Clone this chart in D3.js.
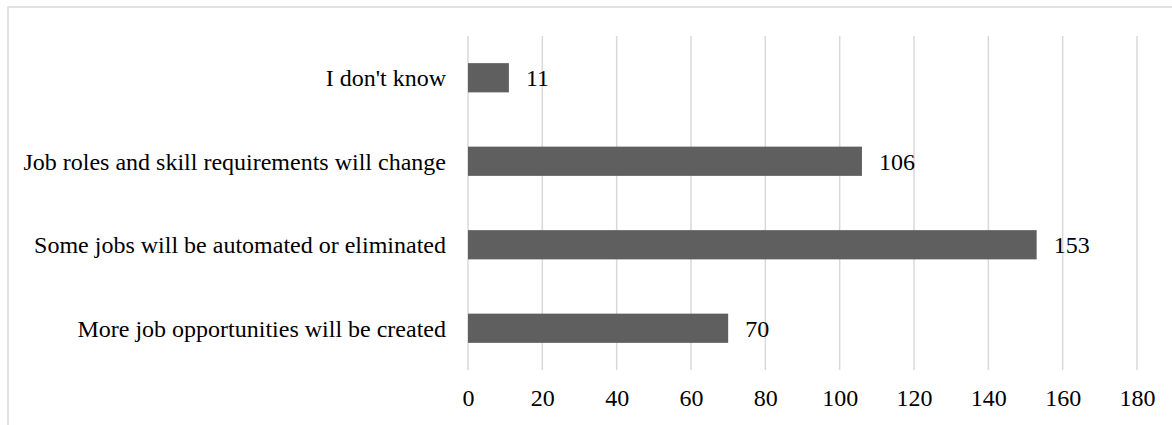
<!DOCTYPE html>
<html><head><meta charset="utf-8">
<script src="https://cdn.jsdelivr.net/npm/d3@7"></script>
<style>html,body{margin:0;padding:0;background:#fff;overflow:hidden}</style>
</head><body>
<svg id="chart" width="1172" height="425"></svg>
<script>
const categories = ["I don't know", "Job roles and skill requirements will change", "Some jobs will be automated or eliminated", "More job opportunities will be created"];
const values = [11, 106, 153, 70];
const tickValues = [0, 20, 40, 60, 80, 100, 120, 140, 160, 180];

const svg = d3.select("#chart");
const font = "'Liberation Serif','Times New Roman',serif";
const fs = 24;
// outer border (clipped on right/bottom)
svg.append("rect").attr("x", 8).attr("y", 7).attr("width", 1200).attr("height", 450)
  .attr("fill", "none").attr("stroke", "#d9d9d9").attr("stroke-width", 1.5);

const x = d3.scaleLinear().domain([0, 180]).range([468, 1137]);
const y = d3.scaleBand().domain(categories).range([36, 370]).paddingInner(0.65).paddingOuter(0.325);

const g = svg.append("g");
g.selectAll("line.grid").data(tickValues).join("line")
  .attr("x1", d => x(d)).attr("x2", d => x(d)).attr("y1", 36).attr("y2", 370)
  .attr("stroke", "#d9d9d9").attr("stroke-width", 1.5);

g.selectAll("rect.bar").data(values).join("rect")
  .attr("x", x(0)).attr("y", (d, i) => y(categories[i]))
  .attr("width", d => x(d) - x(0)).attr("height", y.bandwidth())
  .attr("fill", "#5f5f5f");

g.selectAll("text.val").data(values).join("text")
  .attr("x", d => x(d) + 17).attr("y", (d, i) => y(categories[i]) + y.bandwidth() / 2)
  .attr("dy", "0.35em").attr("font-family", font).attr("font-size", fs).attr("fill", "#000")
  .text(d => d);

g.selectAll("text.cat").data(categories).join("text")
  .attr("x", 446).attr("y", d => y(d) + y.bandwidth() / 2)
  .attr("dy", "0.35em").attr("text-anchor", "end")
  .attr("font-family", font).attr("font-size", fs).attr("fill", "#000")
  .text(d => d);

const axis = d3.axisBottom(x).tickValues(tickValues).tickSize(0).tickPadding(0);
const ax = svg.append("g").attr("transform", "translate(0,398)").call(axis);
ax.select(".domain").remove();
ax.selectAll("text").attr("font-family", font).attr("font-size", fs).attr("fill", "#000")
  .attr("dy", "0.35em").attr("y", 0);
</script>
</body></html>
